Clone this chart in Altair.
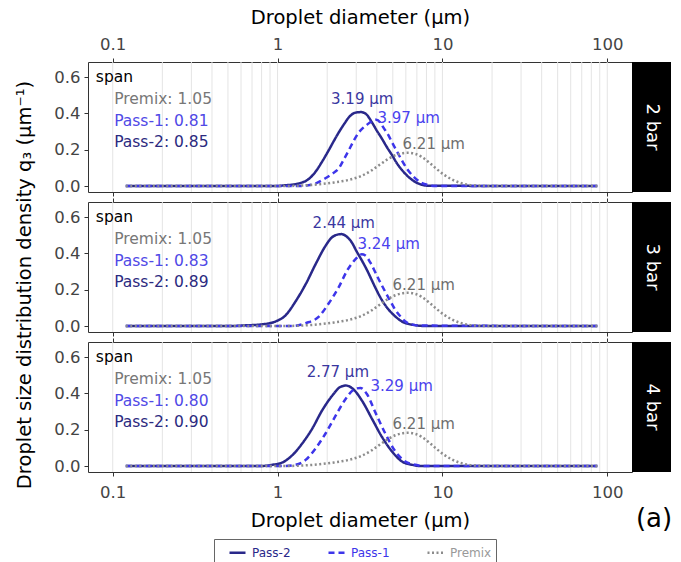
import altair as alt
import pandas as pd

FONT = "DejaVu Sans"

# ---------------- data ----------------
series_order = ["Pass-2", "Pass-1", "Premix"]
panel_labels = ["2 bar", "3 bar", "4 bar"]

# Premix (same in every panel)
premix_d = [0.12, 1.0, 1.4, 1.8, 2.2, 2.7, 3.2, 3.7, 4.2, 4.7, 5.2, 5.7, 6.2, 6.8, 7.5, 8.3,
            9.2, 10.2, 11.4, 12.8, 14.5, 16.5, 19.0, 87.0]
premix_q = [0, 0, 0.003, 0.010, 0.020, 0.034, 0.055, 0.085, 0.120, 0.150, 0.170, 0.180, 0.183,
            0.178, 0.160, 0.130, 0.095, 0.063, 0.037, 0.018, 0.007, 0.002, 0, 0]

# 2 bar
bar2_pass2_d = [0.12, 0.95, 1.1, 1.35, 1.55, 1.7, 1.85, 2.04, 2.2, 2.35, 2.55, 2.7, 2.97, 3.19,
                3.4, 3.74, 4.0, 4.3, 4.6, 4.95, 5.3, 5.69, 6.1, 6.55, 7.0, 7.53, 8.2, 87.0]
bar2_pass2_q = [0, 0, 0.004, 0.015, 0.040, 0.079, 0.130, 0.196, 0.250, 0.295, 0.345, 0.377, 0.404,
                0.407, 0.400, 0.350, 0.305, 0.260, 0.215, 0.170, 0.125, 0.088, 0.058, 0.034,
                0.018, 0.007, 0.002, 0]
bar2_pass1_d = [0.12, 1.3, 1.6, 1.95, 2.15, 2.35, 2.5, 2.7, 2.9, 3.11, 3.3, 3.49, 3.7, 3.97, 4.2,
                4.4, 4.7, 4.95, 5.3, 5.69, 6.1, 6.55, 7.0, 7.53, 8.2, 9.06, 87.0]
bar2_pass1_q = [0, 0, 0.007, 0.043, 0.068, 0.097, 0.140, 0.196, 0.250, 0.295, 0.320, 0.338, 0.355,
                0.365, 0.350, 0.320, 0.280, 0.240, 0.190, 0.140, 0.095, 0.060, 0.035, 0.016,
                0.006, 0, 0]

# 3 bar
bar3_pass2_d = [0.12, 0.5, 0.64, 0.81, 0.97, 1.12, 1.28, 1.48, 1.7, 1.95, 2.12, 2.25, 2.44, 2.6,
                2.83, 3.0, 3.25, 3.5, 3.74, 4.0, 4.3, 4.6, 4.95, 5.3, 5.69, 6.2, 6.86, 7.6, 87.0]
bar3_pass2_q = [0, 0, 0.004, 0.010, 0.025, 0.060, 0.133, 0.230, 0.340, 0.440, 0.485, 0.500, 0.506,
                0.495, 0.458, 0.415, 0.360, 0.305, 0.250, 0.195, 0.142, 0.103, 0.070, 0.045,
                0.025, 0.012, 0.005, 0.001, 0]
bar3_pass1_d = [0.12, 1.23, 1.48, 1.78, 2.04, 2.35, 2.64, 2.97, 3.24, 3.41, 3.65, 3.92, 4.2, 4.51,
                4.85, 5.19, 5.6, 5.96, 6.5, 7.16, 87.0]
bar3_pass1_q = [0, 0, 0.016, 0.052, 0.124, 0.214, 0.305, 0.368, 0.395, 0.388, 0.350, 0.295, 0.240,
                0.187, 0.135, 0.088, 0.050, 0.025, 0.010, 0.003, 0]

# 4 bar
bar4_pass2_d = [0.12, 0.77, 0.93, 1.07, 1.23, 1.41, 1.62, 1.86, 2.14, 2.41, 2.6, 2.9, 3.25, 3.74,
                4.3, 4.95, 5.69, 6.55, 7.5, 87.0]
bar4_pass2_q = [0, 0, 0.007, 0.020, 0.060, 0.124, 0.205, 0.305, 0.386, 0.436, 0.443, 0.420, 0.360,
                0.260, 0.160, 0.080, 0.025, 0.007, 0, 0]
bar4_pass1_d = [0.12, 1.07, 1.28, 1.48, 1.7, 1.95, 2.25, 2.58, 2.9, 3.18, 3.49, 3.92, 4.51, 5.19,
                5.96, 6.86, 7.8, 87.0]
bar4_pass1_q = [0, 0, 0.007, 0.034, 0.097, 0.178, 0.277, 0.368, 0.420, 0.430, 0.395, 0.295, 0.178,
                0.080, 0.025, 0.007, 0, 0]

# span annotations
span_premix = ["1.05", "1.05", "1.05"]
span_pass1 = ["0.81", "0.83", "0.80"]
span_pass2 = ["0.85", "0.89", "0.90"]

# peak (median) labels and their positions (diameter, density)
peak_pass2_text = ["3.19 µm", "2.44 µm", "2.77 µm"]
peak_pass2_x = [3.26, 2.52, 2.32]
peak_pass2_y = [0.48, 0.567, 0.519]
peak_pass1_text = ["3.97 µm", "3.24 µm", "3.29 µm"]
peak_pass1_x = [6.24, 4.72, 5.66]
peak_pass1_y = [0.373, 0.449, 0.438]
peak_premix_text = ["6.21 µm", "6.21 µm", "6.21 µm"]
peak_premix_x = [8.85, 7.70, 7.70]
peak_premix_y = [0.232, 0.227, 0.232]

grid_lines = [0.1, 0.2, 0.3, 0.4, 0.5, 0.6, 0.7, 0.8, 0.9,
              1, 2, 3, 4, 5, 6, 7, 8, 9,
              10, 20, 30, 40, 50, 60, 70, 80, 90, 100]
x_ticks = [0.1, 1, 10, 100]
y_ticks = [0, 0.2, 0.4, 0.6]

# ---------------- styling ----------------
NAVY = "#29288a"
BLUE = "#3d35ea"
GRAY = "#8c8c8c"
TXT_PASS2 = "#2b2a80"
TXT_PASS1 = "#5049e6"
TXT_PREMIX = "#777777"
PEAK_PASS2 = "#3a37a0"
PEAK_PASS1 = "#4a42ee"
PEAK_PREMIX = "#6e6e6e"

W, H = 544, 130
xs = alt.Scale(type="log", domain=[0.0708, 141.25], nice=False)
ys = alt.Scale(domain=[-0.0325, 0.6825], nice=False, zero=False)
y_axis = alt.Axis(values=y_ticks, format=".1f", title=None, grid=False, labelPadding=4)

curves = [
    (bar2_pass2_d, bar2_pass2_q, bar2_pass1_d, bar2_pass1_q),
    (bar3_pass2_d, bar3_pass2_q, bar3_pass1_d, bar3_pass1_q),
    (bar4_pass2_d, bar4_pass2_q, bar4_pass1_d, bar4_pass1_q),
]

legend = alt.Legend(
    title=None, orient="none", legendX=126, legendY=477, direction="horizontal", columns=3,
    symbolType="stroke", symbolSize=256, symbolStrokeWidth=2.5, symbolOffset=10,
    labelFont=FONT, labelFontSize=12, labelOffset=5, columnPadding=26, padding=4,
    strokeColor="#666666", fillColor="white",
    labelColor=alt.ExprRef(expr="datum.label == 'Pass-2' ? '" + NAVY + "' : datum.label == 'Pass-1' ? '" + BLUE + "' : '#999999'"),
)


def panel(i):
    p2d, p2q, p1d, p1q = curves[i]
    rows = []
    for d, q in zip(p2d, p2q):
        rows.append({"d": d, "q": q, "series": "Pass-2", "o": 0})
    for d, q in zip(p1d, p1q):
        rows.append({"d": d, "q": q, "series": "Pass-1", "o": 1})
    for d, q in zip(premix_d, premix_q):
        rows.append({"d": d, "q": q, "series": "Premix", "o": 2})
    cdf = pd.DataFrame(rows)

    top_axis = alt.Axis(orient="top", values=x_ticks, format="~g", grid=False,
                        labels=(i == 0), title="Droplet diameter (µm)" if i == 0 else None,
                        labelPadding=6, titlePadding=9)
    bot_axis = alt.Axis(orient="bottom", values=x_ticks, format="~g", grid=False,
                        labels=(i == 2), title="Droplet diameter (µm)" if i == 2 else None,
                        labelPadding=8, titlePadding=11)

    grid = alt.Chart(pd.DataFrame({"g": grid_lines})).mark_rule(
        color="#e4e4e4", strokeWidth=1
    ).encode(x=alt.X("g:Q", scale=xs, axis=top_axis))

    lines = alt.Chart(cdf).mark_line(interpolate="monotone", strokeCap="butt").encode(
        x=alt.X("d:Q", scale=xs, axis=bot_axis),
        y=alt.Y("q:Q", scale=ys, axis=y_axis),
        color=alt.Color("series:N", scale=alt.Scale(domain=series_order, range=[NAVY, BLUE, GRAY]),
                        legend=legend),
        strokeDash=alt.StrokeDash("series:N", scale=alt.Scale(domain=series_order,
                                                            range=[[1, 0], [6, 4], [2, 2.5]]),
                                  legend=legend),
        strokeWidth=alt.StrokeWidth("series:N", scale=alt.Scale(domain=series_order,
                                                              range=[2.5, 2.5, 2.2]), legend=None),
        order=alt.Order("o:Q"),
    )

    span_df = pd.DataFrame({
        "x": [0.079, 0.102, 0.102, 0.102],
        "y": [0.60, 0.48, 0.36, 0.24],
        "t": ["span", "Premix: " + span_premix[i], "Pass-1: " + span_pass1[i],
              "Pass-2: " + span_pass2[i]],
        "c": ["#000000", TXT_PREMIX, TXT_PASS1, TXT_PASS2],
    })
    span_txt = alt.Chart(span_df).mark_text(align="left", baseline="middle", font=FONT,
                                            fontSize=15.5).encode(
        x=alt.X("x:Q", scale=xs, axis=None),
        y=alt.Y("y:Q", scale=ys, axis=y_axis),
        text="t:N",
        color=alt.Color("c:N", scale=None),
    )

    peak_df = pd.DataFrame({
        "x": [peak_pass2_x[i], peak_pass1_x[i], peak_premix_x[i]],
        "y": [peak_pass2_y[i], peak_pass1_y[i], peak_premix_y[i]],
        "t": [peak_pass2_text[i], peak_pass1_text[i], peak_premix_text[i]],
        "c": [PEAK_PASS2, PEAK_PASS1, PEAK_PREMIX],
    })
    peak_txt = alt.Chart(peak_df).mark_text(align="center", baseline="middle", font=FONT,
                                            fontSize=15).encode(
        x=alt.X("x:Q", scale=xs, axis=None),
        y=alt.Y("y:Q", scale=ys, axis=y_axis),
        text="t:N",
        color=alt.Color("c:N", scale=None),
    )

    lab_df = pd.DataFrame({"label": [panel_labels[i]]})
    strip = alt.Chart(lab_df).mark_rect(color="black").encode(
        x=alt.value(W), x2=alt.value(W + 39), y=alt.value(0), y2=alt.value(H)
    )
    strip_txt = alt.Chart(lab_df).mark_text(angle=90, color="white", font=FONT, fontSize=18,
                                            align="center", baseline="middle").encode(
        x=alt.value(W + 19.5), y=alt.value(H / 2), text="label:N"
    )

    layers = [grid, lines, span_txt, peak_txt, strip, strip_txt]
    if i == 2:
        tag = alt.Chart(pd.DataFrame({"t": ["(a)"]})).mark_text(
            font=FONT, fontSize=26, align="center", baseline="middle"
        ).encode(x=alt.value(W + 22), y=alt.value(H + 47), text="t:N")
        layers.append(tag)

    return alt.layer(*layers).properties(width=W, height=H).resolve_axis(x="independent")


chart = alt.vconcat(panel(0), panel(1), panel(2), spacing=0).properties(
    title=alt.TitleParams(
        text="Droplet size distribution density  q₃ (µm⁻¹)", orient="left", anchor="middle",
        font=FONT, fontSize=19.5, fontWeight="normal", color="black", offset=18,
    ),
    padding={"left": 14, "top": 6, "right": 3, "bottom": 0},
).configure_view(
    stroke="#333333", strokeWidth=1
).configure_axis(
    labelFont=FONT, labelFontSize=16.5, labelColor="#444444", titleFont=FONT, titleFontSize=19.5,
    titleFontWeight="normal", titleColor="#000000", tickColor="#333333", tickSize=4,
    tickWidth=1, domain=False,
).configure_concat(spacing=0)

chart.save("out.html", embed_options={"renderer": "svg", "actions": False})
